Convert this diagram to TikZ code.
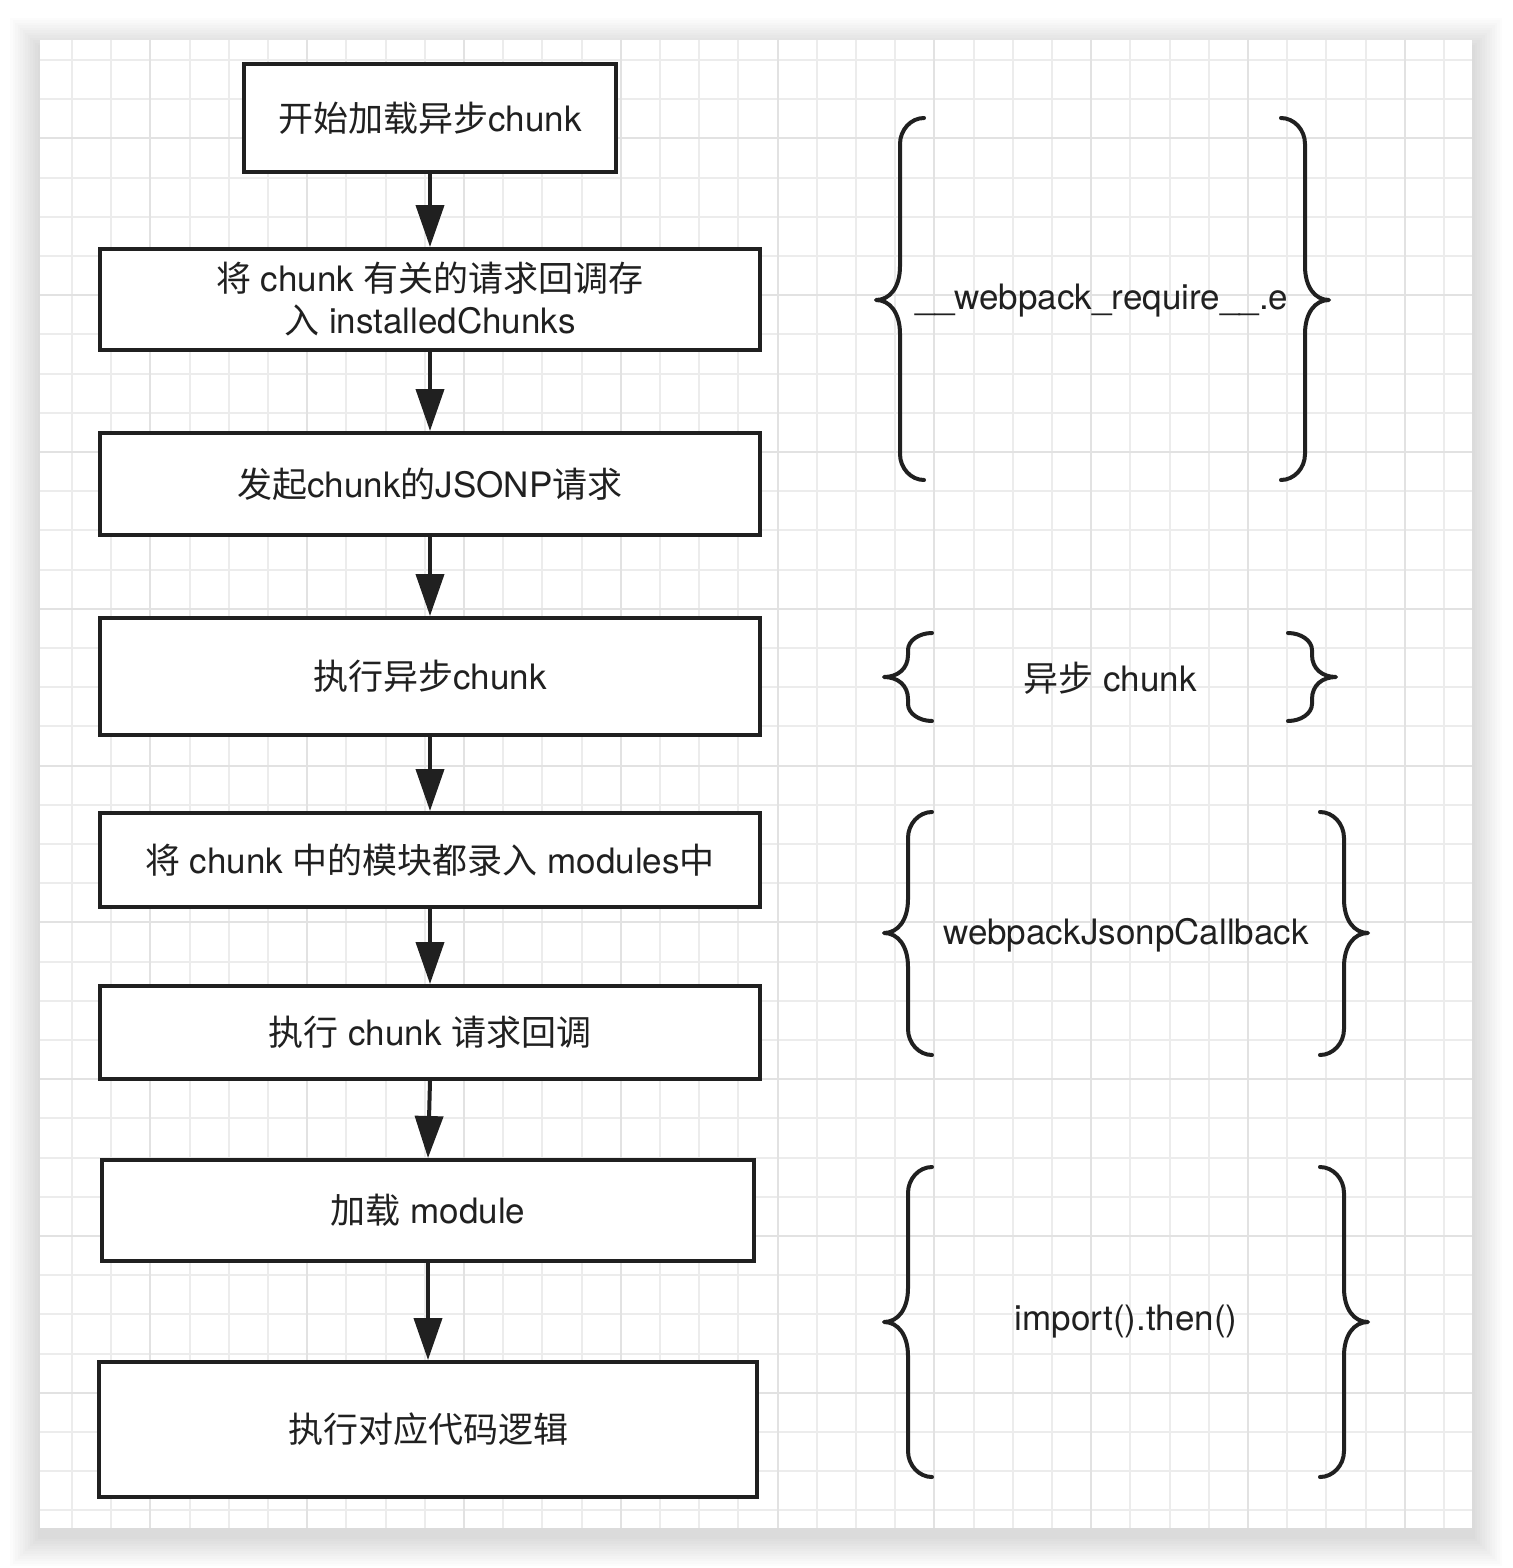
\documentclass[tikz,border=0pt]{standalone}
\usepackage{fontspec}
\setmainfont{TeX Gyre Heros}
\newfontfamily\cjk{Noto Sans CJK SC}
\usepackage{tikz}
\usetikzlibrary{arrows.meta,positioning}
\definecolor{ink}{RGB}{32,32,32}
\definecolor{gridminor}{RGB}{236,236,236}
\definecolor{gridmajor}{RGB}{226,226,226}
\newcommand{\zh}[1]{{\cjk #1}}
\tikzset{
  stepbox/.style={draw=ink,line width=2pt,fill=white,inner sep=0pt,align=center,
    text=ink,font=\fontsize{17.5}{21}\selectfont},
  flow/.style={draw=ink,line width=2pt,-{Triangle[length=21pt,width=14pt]}},
  curl/.style={draw=ink,line width=2pt,line cap=round,line join=round},
  note/.style={text=ink,font=\fontsize{17.5}{21}\selectfont,inner sep=0pt},
  gridline/.style={draw=gridminor,line width=1pt},
  gridbold/.style={draw=gridmajor,line width=1pt}
}
% braces: tip x, top y, bottom y, middle y, end radius
\newcommand{\leftcurl}[5]{%
  \draw[curl] (#1,#2) .. controls (#1-13,#2) and (#1-24,#2+0.45*#5) .. (#1-24,#2+#5)
    -- (#1-24,#4-1.3*#5) .. controls (#1-24,#4-0.5*#5) and (#1-34,#4) .. (#1-48,#4)
    .. controls (#1-34,#4) and (#1-24,#4+0.5*#5) .. (#1-24,#4+1.3*#5)
    -- (#1-24,#3-#5) .. controls (#1-24,#3-0.45*#5) and (#1-13,#3) .. (#1,#3);}
\newcommand{\rightcurl}[5]{%
  \draw[curl] (#1,#2) .. controls (#1+13,#2) and (#1+24,#2+0.45*#5) .. (#1+24,#2+#5)
    -- (#1+24,#4-1.3*#5) .. controls (#1+24,#4-0.5*#5) and (#1+34,#4) .. (#1+48,#4)
    .. controls (#1+34,#4) and (#1+24,#4+0.5*#5) .. (#1+24,#4+1.3*#5)
    -- (#1+24,#3-#5) .. controls (#1+24,#3-0.45*#5) and (#1+13,#3) .. (#1,#3);}
\begin{document}
\begin{tikzpicture}[x=0.5pt,y=-0.5pt]
  \useasboundingbox (0,0) rectangle (1512,1568);
  \fill[white] (0,0) rectangle (1512,1568);
  % soft shadow round the sheet
  \foreach \s in {1,...,12}
    \fill[black,opacity=0.012] (40-2.5*\s,40-2.5*\s+8) rectangle (1472+2.5*\s,1528+2.5*\s+8);
  \fill[white] (40,40) rectangle (1472,1528);
  % grid
  \foreach \k in {0,...,35}
    \draw[gridline] (72+39.2*\k,40) -- (72+39.2*\k,1528);
  \foreach \k in {0,...,37}
    \draw[gridline] (40,60+39.2*\k) -- (1472,60+39.2*\k);
  \foreach \k in {2,6,...,34}
    \draw[gridbold] (72+39.2*\k,40) -- (72+39.2*\k,1528);
  \foreach \k in {2,6,...,34}
    \draw[gridbold] (40,60+39.2*\k) -- (1472,60+39.2*\k);

  % flow
  \node[stepbox,minimum width=186pt,minimum height=54pt] (start) at (430,118) {\zh{开始加载异步}chunk};
  \node[stepbox,minimum width=330pt,minimum height=50.5pt] (store) at (430,299.5) {\zh{将} chunk \zh{有关的请求回调存}\\\zh{入} installedChunks};
  \node[stepbox,minimum width=330pt,minimum height=51pt] (jsonp) at (430,484) {\zh{发起}chunk\zh{的}JSONP\zh{请求}};
  \node[stepbox,minimum width=330pt,minimum height=58.5pt] (runchunk) at (430,676.5) {\zh{执行异步}chunk};
  \node[stepbox,minimum width=330pt,minimum height=47pt] (modules) at (430,860) {\zh{将} chunk \zh{中的模块都录入} modules\zh{中}};
  \node[stepbox,minimum width=330pt,minimum height=46.5pt] (callback) at (430,1032.5) {\zh{执行} chunk \zh{请求回调}};
  \node[stepbox,minimum width=326pt,minimum height=50.5pt] (loadmod) at (428,1210.5) {\zh{加载} module};
  \node[stepbox,minimum width=329pt,minimum height=67.5pt] (runcode) at (428,1429.5) {\zh{执行对应代码逻辑}};
  \draw[flow] (start.south) -- (store.north);
  \draw[flow] (store.south) -- (jsonp.north);
  \draw[flow] (jsonp.south) -- (runchunk.north);
  \draw[flow] (runchunk.south) -- (modules.north);
  \draw[flow] (modules.south) -- (callback.north);
  \draw[flow] (callback.south) -- (loadmod.north);
  \draw[flow] (loadmod.south) -- (runcode.north);

  % braces
  \leftcurl{924}{118}{480}{300}{26}
  \rightcurl{1281}{118}{480}{300}{26}
  \node[note] (reqe) at (1102,301) {\_\_webpack\_require\_\_.e};
  \leftcurl{932}{633}{721}{677}{17}
  \rightcurl{1288}{633}{721}{677}{17}
  \node[note] (async) at (1110,678) {\zh{异步} chunk};
  \leftcurl{932}{812}{1055}{933}{26}
  \rightcurl{1320}{812}{1055}{933}{26}
  \node[note] (jsonpcb) at (1126,935) {webpackJsonpCallback};
  \leftcurl{932}{1167}{1477}{1322}{26}
  \rightcurl{1320}{1167}{1477}{1322}{26}
  \node[note] (thenimp) at (1126,1322) {import().then()};
\end{tikzpicture}
\end{document}
